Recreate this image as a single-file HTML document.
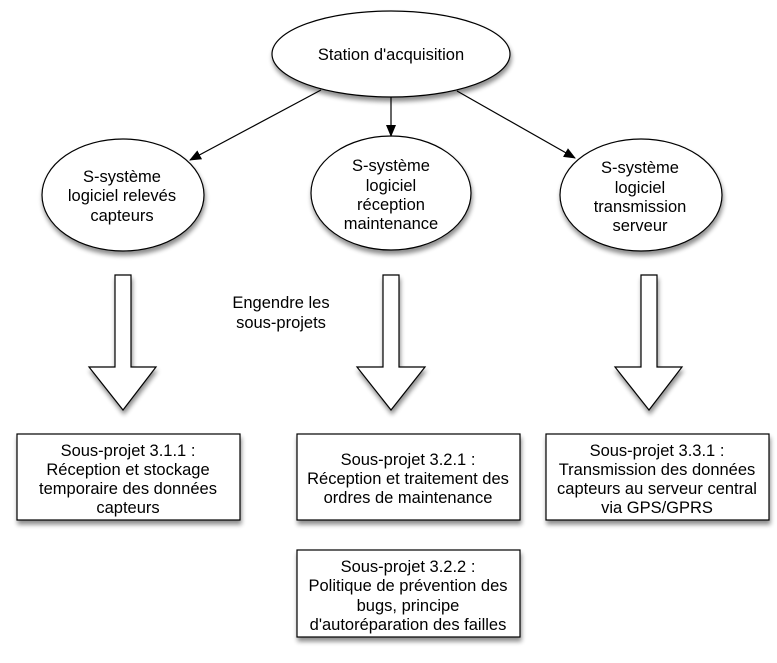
<!DOCTYPE html>
<html><head><meta charset="utf-8"><style>
html,body{margin:0;padding:0;background:#fff;}
svg text{font-family:"Liberation Sans",Arial,sans-serif;font-size:16.5px;fill:#000;text-anchor:middle;}
</style></head><body>
<svg width="777" height="658" viewBox="0 0 777 658" xmlns="http://www.w3.org/2000/svg">
<defs>
<filter id="sh" x="-20%" y="-20%" width="150%" height="150%">
<feGaussianBlur in="SourceAlpha" stdDeviation="2.5"/>
<feOffset dx="1" dy="4" result="b"/>
<feComponentTransfer><feFuncA type="linear" slope="0.45"/></feComponentTransfer>
<feMerge><feMergeNode/><feMergeNode in="SourceGraphic"/></feMerge>
</filter>
<marker id="ah" markerWidth="12" markerHeight="10" refX="11" refY="5" orient="auto" markerUnits="userSpaceOnUse">
<path d="M0,0 L12,5 L0,10 Z" fill="#000"/>
</marker>
</defs>
<g stroke="#000" stroke-width="1.2" fill="#fff" filter="url(#sh)">
<ellipse cx="391" cy="54" rx="119" ry="43"/>
<ellipse cx="123" cy="195" rx="81" ry="56"/>
<ellipse cx="391" cy="193" rx="80" ry="57"/>
<ellipse cx="641" cy="195" rx="81" ry="56"/>
<path d="M115,275 H131 V367 H156 L123,410 L89,367 H115 Z"/>
<path d="M383,275 H399 V367 H425 L391,410 L357,367 H383 Z"/>
<path d="M641,275 H657 V367 H682 L649,410 L615,367 H641 Z"/>
<rect x="17" y="434" width="223" height="86"/>
<rect x="297" y="434" width="223" height="86"/>
<rect x="546" y="434" width="223" height="86"/>
<rect x="297" y="550" width="223" height="87"/>
</g>
<g stroke="#000" stroke-width="1.2" fill="none">
<line x1="321" y1="90" x2="190" y2="160" marker-end="url(#ah)"/>
<line x1="391" y1="97" x2="391" y2="136" marker-end="url(#ah)"/>
<line x1="457" y1="91" x2="575" y2="158" marker-end="url(#ah)"/>
</g>
<text x="391" y="60">Station d'acquisition</text>
<text x="122" y="182">S-système</text>
<text x="122" y="201">logiciel relevés</text>
<text x="122" y="221">capteurs</text>
<text x="391" y="171">S-système</text>
<text x="391" y="191">logiciel</text>
<text x="391" y="210">réception</text>
<text x="391" y="229">maintenance</text>
<text x="640" y="173">S-système</text>
<text x="640" y="193">logiciel</text>
<text x="640" y="212">transmission</text>
<text x="640" y="231">serveur</text>
<text x="281" y="308">Engendre les</text>
<text x="281" y="328">sous-projets</text>
<text x="128" y="456">Sous-projet 3.1.1 :</text>
<text x="128" y="475">Réception et stockage</text>
<text x="128" y="494">temporaire des données</text>
<text x="128" y="513">capteurs</text>
<text x="408" y="465">Sous-projet 3.2.1 :</text>
<text x="408" y="484">Réception et traitement des</text>
<text x="408" y="503">ordres de maintenance</text>
<text x="657" y="456">Sous-projet 3.3.1 :</text>
<text x="657" y="475">Transmission des données</text>
<text x="657" y="494">capteurs au serveur central</text>
<text x="657" y="513">via GPS/GPRS</text>
<text x="408" y="572">Sous-projet 3.2.2 :</text>
<text x="408" y="591">Politique de prévention des</text>
<text x="408" y="611">bugs, principe</text>
<text x="408" y="630">d'autoréparation des failles</text>
</svg>
</body></html>
